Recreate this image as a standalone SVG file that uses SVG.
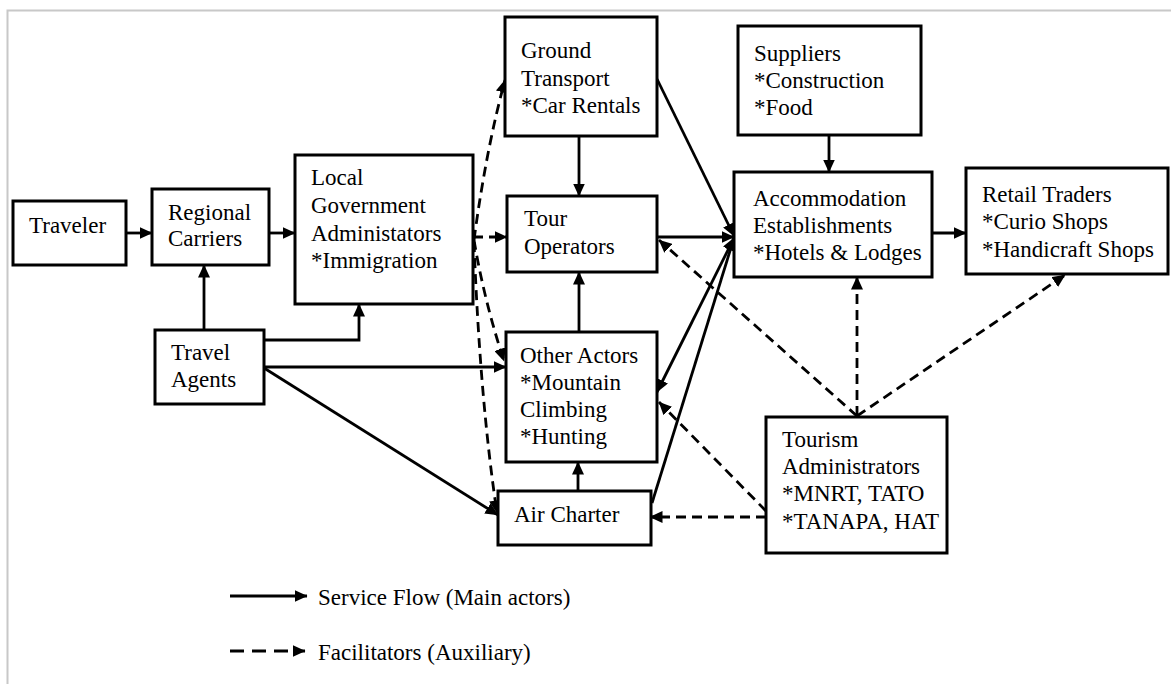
<svg xmlns="http://www.w3.org/2000/svg" width="1171" height="684" viewBox="0 0 1171 684">
  <defs>
    <marker id="arrow" viewBox="0 0 13 12" refX="12.5" refY="6" markerWidth="13" markerHeight="12" markerUnits="userSpaceOnUse" orient="auto-start-reverse">
      <path d="M0,0 L13,6 L0,12 Z" fill="#000"/>
    </marker>
    <style>
      .box { fill: #fff; stroke: #000; stroke-width: 3; }
      .lbl { font-family: "Liberation Serif", "Times New Roman", serif; font-size: 23px; fill: #000; }
      .solid { fill: none; stroke: #000; stroke-width: 2.8; }
      .dash { fill: none; stroke: #000; stroke-width: 2.8; stroke-dasharray: 10 6; }
      .frame { fill: none; stroke: #c8c8c8; stroke-width: 2; }
    </style>
  </defs>
  <rect width="1171" height="684" fill="#fff"/>
  <!-- page frame -->
  <path class="frame" d="M7.5,684 V10.5 H1171"/>

  <!-- connectors -->
  <g id="connectors">
    <!-- service flow (solid) -->
    <line class="solid" x1="126" y1="233" x2="152" y2="233" marker-end="url(#arrow)"/>
    <line class="solid" x1="269" y1="233" x2="295" y2="233" marker-end="url(#arrow)"/>
    <line class="solid" x1="204" y1="330" x2="204" y2="265" marker-end="url(#arrow)"/>
    <polyline class="solid" points="264,340 359,340 359,304" marker-end="url(#arrow)"/>
    <line class="solid" x1="264" y1="367" x2="506" y2="367" marker-end="url(#arrow)"/>
    <line class="solid" x1="264" y1="368" x2="498" y2="515" marker-end="url(#arrow)"/>
    <line class="solid" x1="579" y1="136" x2="579" y2="196" marker-end="url(#arrow)"/>
    <line class="solid" x1="657" y1="79" x2="734" y2="236" marker-end="url(#arrow)"/>
    <line class="solid" x1="657" y1="237" x2="734" y2="237" marker-end="url(#arrow)"/>
    <line class="solid" x1="579" y1="332" x2="579" y2="272" marker-end="url(#arrow)"/>
    <line class="solid" x1="578" y1="491" x2="578" y2="462" marker-end="url(#arrow)"/>
    <line class="solid" x1="734" y1="238" x2="657" y2="392" marker-start="url(#arrow)" marker-end="url(#arrow)"/>
    <line class="solid" x1="652" y1="503" x2="734" y2="238" marker-end="url(#arrow)"/>
    <line class="solid" x1="829" y1="135" x2="829" y2="172" marker-end="url(#arrow)"/>
    <line class="solid" x1="932" y1="233" x2="966" y2="233" marker-end="url(#arrow)"/>

    <!-- facilitators (dashed) -->
    <line class="dash" x1="473" y1="237" x2="507" y2="237" marker-end="url(#arrow)"/>
    <path class="dash" d="M474,240 Q486,150 505,80" marker-end="url(#arrow)"/>
    <path class="dash" d="M474,240 Q484,300 504,361" marker-end="url(#arrow)"/>
    <path class="dash" d="M474,242 Q480,400 497,513" marker-end="url(#arrow)"/>
    <line class="dash" x1="766" y1="517" x2="650" y2="517" marker-end="url(#arrow)"/>
    <line class="dash" x1="766" y1="511" x2="659" y2="402" marker-end="url(#arrow)"/>
    <line class="dash" x1="857" y1="416" x2="659" y2="240" marker-end="url(#arrow)"/>
    <line class="dash" x1="857" y1="416" x2="857" y2="277" marker-end="url(#arrow)"/>
    <line class="dash" x1="857" y1="416" x2="1065" y2="275" marker-end="url(#arrow)"/>
  </g>

  <!-- nodes -->
  <g id="traveler">
    <rect class="box" x="13" y="201" width="113" height="64"/>
    <text class="lbl" x="29" y="233">Traveler</text>
  </g>
  <g id="regional-carriers">
    <rect class="box" x="152" y="189" width="117" height="76"/>
    <text class="lbl" x="168" y="220">Regional</text>
    <text class="lbl" x="168" y="246">Carriers</text>
  </g>
  <g id="local-government">
    <rect class="box" x="295" y="155" width="178" height="149"/>
    <text class="lbl" x="311" y="185">Local</text>
    <text class="lbl" x="311" y="213">Government</text>
    <text class="lbl" x="311" y="241">Administators</text>
    <text class="lbl" x="311" y="268">*Immigration</text>
  </g>
  <g id="travel-agents">
    <rect class="box" x="155" y="330" width="109" height="74"/>
    <text class="lbl" x="171" y="360">Travel</text>
    <text class="lbl" x="171" y="387">Agents</text>
  </g>
  <g id="ground-transport">
    <rect class="box" x="505" y="17" width="152" height="119"/>
    <text class="lbl" x="521" y="58">Ground</text>
    <text class="lbl" x="521" y="86">Transport</text>
    <text class="lbl" x="521" y="113">*Car Rentals</text>
  </g>
  <g id="tour-operators">
    <rect class="box" x="507" y="196" width="150" height="76"/>
    <text class="lbl" x="524" y="226">Tour</text>
    <text class="lbl" x="524" y="254">Operators</text>
  </g>
  <g id="other-actors">
    <rect class="box" x="506" y="332" width="151" height="130"/>
    <text class="lbl" x="520" y="363">Other Actors</text>
    <text class="lbl" x="520" y="390">*Mountain</text>
    <text class="lbl" x="520" y="417">Climbing</text>
    <text class="lbl" x="520" y="444">*Hunting</text>
  </g>
  <g id="air-charter">
    <rect class="box" x="498" y="491" width="153" height="54"/>
    <text class="lbl" x="514" y="522">Air Charter</text>
  </g>
  <g id="suppliers">
    <rect class="box" x="738" y="26" width="183" height="109"/>
    <text class="lbl" x="754" y="61">Suppliers</text>
    <text class="lbl" x="754" y="88">*Construction</text>
    <text class="lbl" x="754" y="115">*Food</text>
  </g>
  <g id="accommodation">
    <rect class="box" x="734" y="172" width="198" height="105"/>
    <text class="lbl" x="753" y="206">Accommodation</text>
    <text class="lbl" x="753" y="233">Establishments</text>
    <text class="lbl" x="753" y="260">*Hotels &amp; Lodges</text>
  </g>
  <g id="retail-traders">
    <rect class="box" x="966" y="168" width="202" height="106"/>
    <text class="lbl" x="982" y="202">Retail Traders</text>
    <text class="lbl" x="982" y="229">*Curio Shops</text>
    <text class="lbl" x="982" y="257">*Handicraft Shops</text>
  </g>
  <g id="tourism-administrators">
    <rect class="box" x="766" y="417" width="181" height="136"/>
    <text class="lbl" x="782" y="447">Tourism</text>
    <text class="lbl" x="782" y="474">Administrators</text>
    <text class="lbl" x="782" y="501">*MNRT, TATO</text>
    <text class="lbl" x="782" y="529">*TANAPA, HAT</text>
  </g>

  <!-- legend -->
  <g id="legend">
    <line class="solid" x1="230" y1="596" x2="307" y2="596" marker-end="url(#arrow)"/>
    <text class="lbl" x="318" y="605">Service Flow (Main actors)</text>
    <line x1="230" y1="651" x2="305" y2="651" stroke="#000" stroke-width="2.8" stroke-dasharray="14 8" marker-end="url(#arrow)"/>
    <text class="lbl" x="318" y="660">Facilitators (Auxiliary)</text>
  </g>
</svg>
